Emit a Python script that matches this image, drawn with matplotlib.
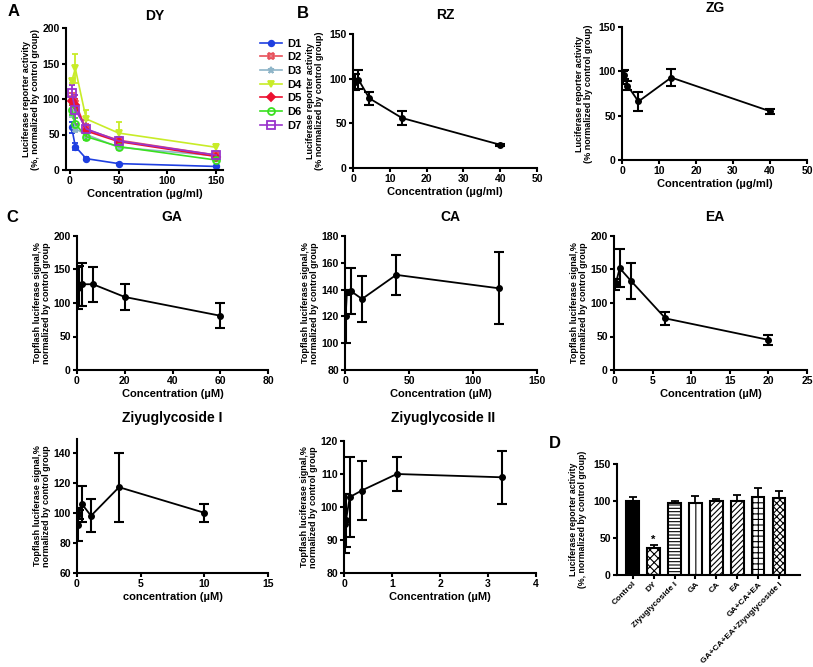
import matplotlib
matplotlib.use('Agg')
import matplotlib.pyplot as plt
from matplotlib.lines import Line2D
import numpy as np

plt.rcParams['font.family'] = ['Liberation Sans', 'DejaVu Sans']
plt.rcParams['font.weight'] = 'bold'
plt.rcParams['axes.labelweight'] = 'bold'
plt.rcParams['hatch.linewidth'] = 0.8

# ---------------- data ----------------
dy_conc = [1.85, 5.56, 16.7, 50, 150]
dy_names = ['D1', 'D2', 'D3', 'D4', 'D5', 'D6', 'D7']
dy_d1 = [60, 33, 16, 9, 5]
dy_d2 = [100, 95, 57, 42, 21]
dy_d3 = [85, 58, 50, 32, 20]
dy_d4 = [125, 143, 72, 52, 32]
dy_d5 = [97, 92, 55, 40, 19]
dy_d6 = [85, 65, 47, 33, 14]
dy_d7 = [108, 85, 58, 41, 21]
dy_e1 = [8, 5, 2, 1, 1]
dy_e2 = [8, 10, 8, 3, 3]
dy_e3 = [10, 5, 5, 4, 3]
dy_e4 = [3, 20, 12, 15, 5]
dy_e5 = [5, 8, 7, 3, 2]
dy_e6 = [8, 8, 5, 4, 2]
dy_e7 = [12, 20, 12, 5, 3]

rz_conc = [0.49, 1.48, 4.44, 13.3, 40]
rz_val = [96, 99, 78, 56, 26]
rz_err = [9, 11, 7, 8, 1]

zg_conc = [0.16, 0.49, 1.48, 4.44, 13.3, 40]
zg_val = [93, 96, 84, 66, 93, 55]
zg_err = [7, 5, 5, 11, 10, 3]

ga_conc = [0.25, 0.74, 2.2, 6.7, 20, 60]
ga_val = [122, 125, 128, 128, 109, 81]
ga_err = [31, 30, 32, 26, 19, 19]

ca_conc = [0.49, 1.48, 4.44, 13.3, 40, 120]
ca_val = [120, 138, 139, 133, 151, 141]
ca_err = [20, 2, 17, 17, 15, 27]

ea_conc = [0.082, 0.25, 0.74, 2.2, 6.67, 20]
ea_val = [128, 130, 152, 133, 77, 45]
ea_err = [8, 6, 28, 27, 10, 7]

z1_conc = [0.04, 0.12, 0.37, 1.1, 3.3, 10]
z1_val = [92, 99, 106, 98, 117, 100]
z1_err = [11, 3, 12, 11, 23, 6]

z2_conc = [0.014, 0.041, 0.12, 0.37, 1.1, 3.3]
z2_val = [95, 96, 103, 105, 110, 109]
z2_err = [9, 8, 12, 9, 5, 8]

d_cats = ['Control', 'DY', 'Ziyuglycoside I', 'GA', 'CA', 'EA', 'GA+CA+EA',
          'GA+CA+EA+Ziyuglycoside I']
d_val = [100, 36, 97, 97, 100, 100, 106, 104]
d_err = [5, 4, 3, 10, 3, 8, 11, 10]

# ---------------- figure ----------------
W, H = 813, 667
fig = plt.figure(figsize=(W / 100, H / 100), dpi=100)


def add_ax(l, t, r, b):
    return fig.add_axes([l / W, 1 - b / H, (r - l) / W, (b - t) / H])


def style(ax):
    for s in ['top', 'right']:
        ax.spines[s].set_visible(False)
    for s in ['left', 'bottom']:
        ax.spines[s].set_linewidth(1.5)
    ax.tick_params(width=1.5, length=3, labelsize=7.5, pad=1.5)
    for lab in ax.get_xticklabels() + ax.get_yticklabels():
        lab.set_fontweight('bold')


def ftext(x, y, s, size=10, ha='center'):
    fig.text(x / W, 1 - y / H, s, fontsize=size, fontweight='bold',
             ha=ha, va='center')


YL_LUC = 'Luciferase reporter activity\n(%, normalized by control group)'
YL_LUC2 = 'Luciferase reporter activity\n(% normalized by control group)'
YL_TOP = 'Topflash luciferase signal,%\nnormalized by control group'


def curve(ax, x, y, e):
    ax.errorbar(x, y, yerr=e, color='black', lw=1.3, marker='o', ms=4,
                capsize=3.5, capthick=1.5, elinewidth=1.5)


# ---- Panel A: DY ----
axA = add_ax(66, 28, 223, 170)
dy_vals = [dy_d1, dy_d2, dy_d3, dy_d4, dy_d5, dy_d6, dy_d7]
dy_errs = [dy_e1, dy_e2, dy_e3, dy_e4, dy_e5, dy_e6, dy_e7]
colors = ['#1f3fe0', '#e8505a', '#8fb5c8', '#c8ec28', '#ec1030', '#3ae020', '#9933cc']
markers = ['o', 'X', '*', 'v', 'D', 'o', 's']
faces = ['#1f3fe0', '#e8808a', '#8fb5c8', '#c8ec28', '#ec1030', 'none', 'none']
sizes = [4, 5, 5, 4, 4, 5, 6]
handles = []
for name, v, e, c, m, fc, ms in zip(dy_names, dy_vals, dy_errs, colors, markers, faces, sizes):
    axA.errorbar(dy_conc, v, yerr=e, color=c, lw=1.2, marker=m, ms=ms,
                 mfc=fc, mec=c, mew=1.3, capsize=2.5, capthick=1.3,
                 elinewidth=1.3)
    handles.append(Line2D([], [], color=c, lw=1.2, marker=m, ms=ms,
                          mfc=fc, mec=c, mew=1.3, label=name))
axA.set_xlim(-4, 157)
axA.set_ylim(0, 200)
axA.set_xticks([0, 50, 100, 150])
axA.set_yticks([0, 50, 100, 150, 200])
axA.set_xlabel('Concentration (µg/ml)', fontsize=8, labelpad=2)
axA.set_ylabel(YL_LUC, fontsize=6.5, labelpad=2, linespacing=1.0)
style(axA)
leg = axA.legend(handles=handles, loc='upper left',
                 bbox_to_anchor=(254 / W, 1 - 33 / H),
                 bbox_transform=fig.transFigure, frameon=False, fontsize=8,
                 handlelength=2.0, labelspacing=0.33, borderpad=0,
                 handletextpad=0.5)
for t in leg.get_texts():
    t.set_fontweight('bold')
ftext(155, 16, 'DY', 10)

# ---- Panel B: RZ ----
axRZ = add_ax(353, 34, 537, 168)
curve(axRZ, rz_conc, rz_val, rz_err)
axRZ.set_xlim(0, 50)
axRZ.set_ylim(0, 150)
axRZ.set_xticks([0, 10, 20, 30, 40, 50])
axRZ.set_yticks([0, 50, 100, 150])
axRZ.set_xlabel('Concentration (µg/ml)', fontsize=8, labelpad=2)
axRZ.set_ylabel(YL_LUC2, fontsize=6.5, labelpad=4, linespacing=1.0)
style(axRZ)
ftext(445, 15, 'RZ', 10)

# ---- ZG ----
axZG = add_ax(622, 27, 807, 160)
curve(axZG, zg_conc, zg_val, zg_err)
axZG.set_xlim(0, 50)
axZG.set_ylim(0, 150)
axZG.set_xticks([0, 10, 20, 30, 40, 50])
axZG.set_yticks([0, 50, 100, 150])
axZG.set_xlabel('Concentration (µg/ml)', fontsize=8, labelpad=2)
axZG.set_ylabel(YL_LUC2, fontsize=6.5, labelpad=4, linespacing=1.0)
style(axZG)
ftext(715, 8, 'ZG', 10)

# ---- Panel C: GA ----
axGA = add_ax(77, 236, 268, 370)
curve(axGA, ga_conc, ga_val, ga_err)
axGA.set_xlim(0, 80)
axGA.set_ylim(0, 200)
axGA.set_xticks([0, 20, 40, 60, 80])
axGA.set_yticks([0, 50, 100, 150, 200])
axGA.set_xlabel('Concentration (µM)', fontsize=8, labelpad=2)
axGA.set_ylabel(YL_TOP, fontsize=6.5, labelpad=2, linespacing=1.0)
style(axGA)
ftext(172, 217, 'GA', 10)

# ---- CA ----
axCA = add_ax(345, 236, 537, 370)
curve(axCA, ca_conc, ca_val, ca_err)
axCA.set_xlim(0, 150)
axCA.set_ylim(80, 180)
axCA.set_xticks([0, 50, 100, 150])
axCA.set_yticks([80, 100, 120, 140, 160, 180])
axCA.set_xlabel('Concentration (µM)', fontsize=8, labelpad=2)
axCA.set_ylabel(YL_TOP, fontsize=6.5, labelpad=2, linespacing=1.0)
style(axCA)
ftext(450, 217, 'CA', 10)

# ---- EA ----
axEA = add_ax(614, 236, 807, 370)
curve(axEA, ea_conc, ea_val, ea_err)
axEA.set_xlim(0, 25)
axEA.set_ylim(0, 200)
axEA.set_xticks([0, 5, 10, 15, 20, 25])
axEA.set_yticks([0, 50, 100, 150, 200])
axEA.set_xlabel('Concentration (µM)', fontsize=8, labelpad=2)
axEA.set_ylabel(YL_TOP, fontsize=6.5, labelpad=2, linespacing=1.0)
style(axEA)
ftext(715, 217, 'EA', 10)

# ---- Ziyuglycoside I ----
axZ1 = add_ax(77, 439, 268, 573)
curve(axZ1, z1_conc, z1_val, z1_err)
axZ1.set_xlim(0, 15)
axZ1.set_ylim(60, 149)
axZ1.set_xticks([0, 5, 10, 15])
axZ1.set_yticks([60, 80, 100, 120, 140])
axZ1.set_xlabel('concentration (µM)', fontsize=8, labelpad=2)
axZ1.set_ylabel(YL_TOP, fontsize=6.5, labelpad=2, linespacing=1.0)
style(axZ1)
ftext(172, 418, 'Ziyuglycoside I', 10)

# ---- Ziyuglycoside II ----
axZ2 = add_ax(344, 441, 536, 573)
curve(axZ2, z2_conc, z2_val, z2_err)
axZ2.set_xlim(0, 4)
axZ2.set_ylim(80, 120)
axZ2.set_xticks([0, 1, 2, 3, 4])
axZ2.set_yticks([80, 90, 100, 110, 120])
axZ2.set_xlabel('Concentration (µM)', fontsize=8, labelpad=2)
axZ2.set_ylabel(YL_TOP, fontsize=6.5, labelpad=2, linespacing=1.0)
style(axZ2)
ftext(443, 418, 'Ziyuglycoside II', 10)

# ---- Panel D: bars ----
axD = add_ax(617, 464, 800, 575)
hatches = ['', 'xxxx', '-----', '||', '//////', '//////', '+++', 'xxxxx']
xpos = np.arange(len(d_cats))
for i, (v, e, h) in enumerate(zip(d_val, d_err, hatches)):
    fc = 'black' if i == 0 else 'white'
    axD.bar(xpos[i], v, width=0.6, color=fc, edgecolor='black', hatch=h,
            linewidth=1.5)
    axD.errorbar(xpos[i], v, yerr=[[0], [e]], color='black', capsize=3,
                 capthick=1.3, elinewidth=1.3, fmt='none')
axD.text(xpos[1], d_val[1] + d_err[1] + 1, '*', ha='center', va='bottom',
         fontsize=8, fontweight='bold')
axD.set_xlim(-0.75, 8.0)
axD.set_ylim(0, 150)
axD.set_yticks([0, 50, 100, 150])
axD.set_xticks(xpos)
axD.set_xticklabels(d_cats, rotation=45, ha='right', rotation_mode='anchor',
                    fontsize=6)
axD.set_ylabel(YL_LUC, fontsize=6.3, labelpad=5, linespacing=1.0)
style(axD)
axD.tick_params(axis='x', labelsize=6, pad=1)

# ---- panel letters ----
ftext(8, 12, 'A', 12, ha='left')
ftext(297, 14, 'B', 12, ha='left')
ftext(6, 217, 'C', 12, ha='left')
ftext(549, 443, 'D', 12, ha='left')

fig.savefig('out.png', dpi=100)
